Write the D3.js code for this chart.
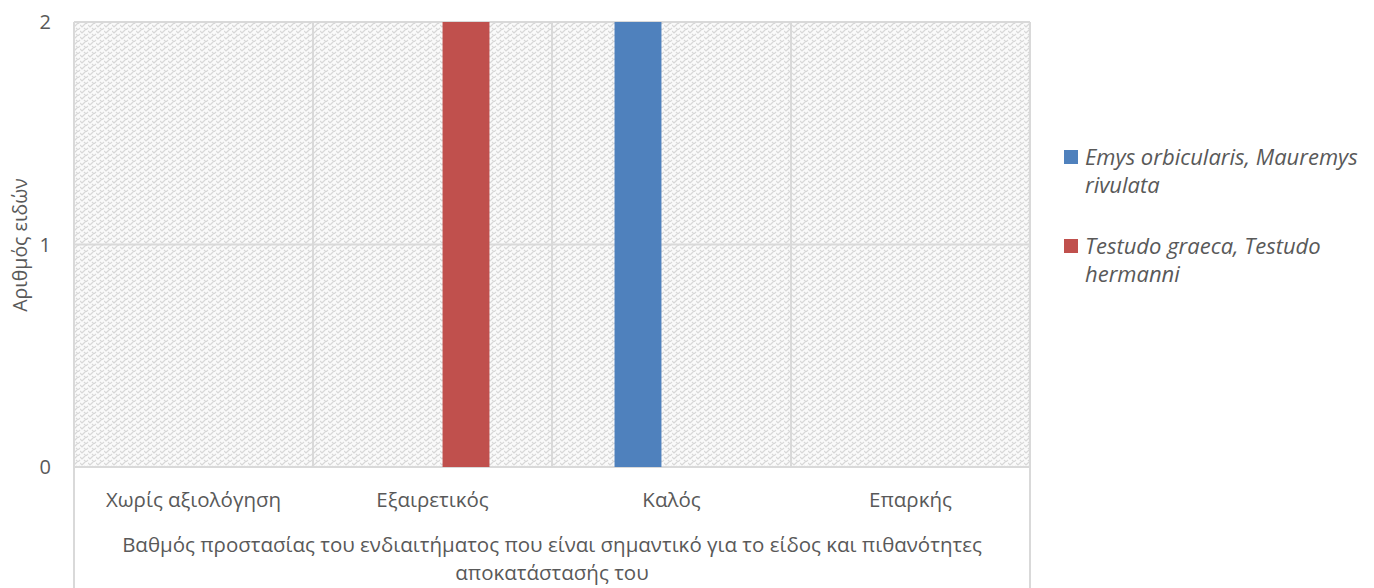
<!DOCTYPE html>
<html><head><meta charset="utf-8">
<script src="https://cdn.jsdelivr.net/npm/d3@7"></script>
<style>
body{margin:0;background:#fff;}
text{font-family:"Open Sans","Noto Sans",sans-serif;fill:#595959;}
</style></head>
<body>
<svg id="chart" width="1374" height="588"></svg>
<script>
const categories = ["Χωρίς αξιολόγηση","Εξαιρετικός","Καλός","Επαρκής"];
const seriesNames = ["Emys orbicularis, Mauremys rivulata","Testudo graeca, Testudo hermanni"];
const seriesLegendLines = [["Emys orbicularis, Mauremys","rivulata"],["Testudo graeca, Testudo","hermanni"]];
const emysValues = [0,0,2,0];
const testudoValues = [0,2,0,0];
const yTicks = [0,1,2];
const colors = ["#4f81bd","#c0504d"];
const yTitle = "Αριθμός ειδών";
const xTitleLines = ["Βαθμός προστασίας του ενδιαιτήματος που είναι σημαντικό για το είδος και πιθανότητες","αποκατάστασής του"];

const svg = d3.select("#chart");
const L=74, R=1030, T=22, B=467;
const defs = svg.append("defs");
const pat = defs.append("pattern").attr("id","hatch").attr("patternUnits","userSpaceOnUse")
  .attr("width",8).attr("height",6);
pat.append("rect").attr("width",8).attr("height",6).attr("fill","#fafafa");
pat.append("path").attr("d","M0,1 L2,3 L4,1 M4,4 L6,6 L8,4 M4,1 L6,-1 M0,4 L-2,6")
  .attr("stroke","#d8d8d8").attr("stroke-width",1.2).attr("fill","none");

const x0 = d3.scaleBand().domain(categories).range([L,R]).padding(0);
const x1 = d3.scaleBand().domain(seriesNames).range([0,x0.bandwidth()]).paddingInner(0.3).paddingOuter(0.933);
const y = d3.scaleLinear().domain([0,2]).range([B,T]);

svg.append("rect").attr("x",L).attr("y",T).attr("width",R-L).attr("height",B-T).attr("fill","url(#hatch)");

svg.append("g").selectAll("line").data(yTicks).join("line")
  .attr("x1",L).attr("x2",R).attr("y1",d=>y(d)).attr("y2",d=>y(d))
  .attr("stroke","#d9d9d9").attr("stroke-width",2);
const bounds = categories.map(c=>x0(c)).concat([R]);
svg.append("g").selectAll("line").data(bounds).join("line")
  .attr("x1",d=>d).attr("x2",d=>d).attr("y1",T)
  .attr("y2",(d,i)=> (i===0||i===bounds.length-1)?588:B)
  .attr("stroke","#d9d9d9").attr("stroke-width",2);

const data = [emysValues, testudoValues];
data.forEach((vals,si)=>{
  svg.append("g").selectAll("rect").data(vals.map((v,i)=>({v,c:categories[i]})).filter(d=>d.v>0)).join("rect")
    .attr("x",d=>x0(d.c)+x1(seriesNames[si])).attr("width",x1.bandwidth())
    .attr("y",d=>y(d.v)).attr("height",d=>B-y(d.v)).attr("fill",colors[si]);
});

svg.append("g").selectAll("text").data(yTicks).join("text")
  .attr("x",51).attr("y",d=>y(d)+7).attr("text-anchor","end").style("font-size","20px").text(d=>d);
svg.append("g").selectAll("text").data(categories).join("text")
  .attr("x",d=>x0(d)+x0.bandwidth()/2).attr("y",507).attr("text-anchor","middle").style("font-size","20.5px").text(d=>d);
svg.append("g").selectAll("text").data(xTitleLines).join("text")
  .attr("x",(L+R)/2).attr("y",(d,i)=>552+i*28).attr("text-anchor","middle").style("font-size","20.5px").text(d=>d);
svg.append("text").attr("transform","translate(27,245) rotate(-90)").attr("text-anchor","middle")
  .style("font-size","19.5px").text(yTitle);

const lg = svg.append("g");
seriesNames.forEach((s,i)=>{
  const gy = 150 + i*89;
  lg.append("rect").attr("x",1064).attr("y",gy).attr("width",14).attr("height",14).attr("fill",colors[i]);
  seriesLegendLines[i].forEach((t,j)=>{
    lg.append("text").attr("x",1085).attr("y",gy+15+j*28).style("font-size","22px").style("font-style","italic").text(t);
  });
});
</script>
</body></html>
